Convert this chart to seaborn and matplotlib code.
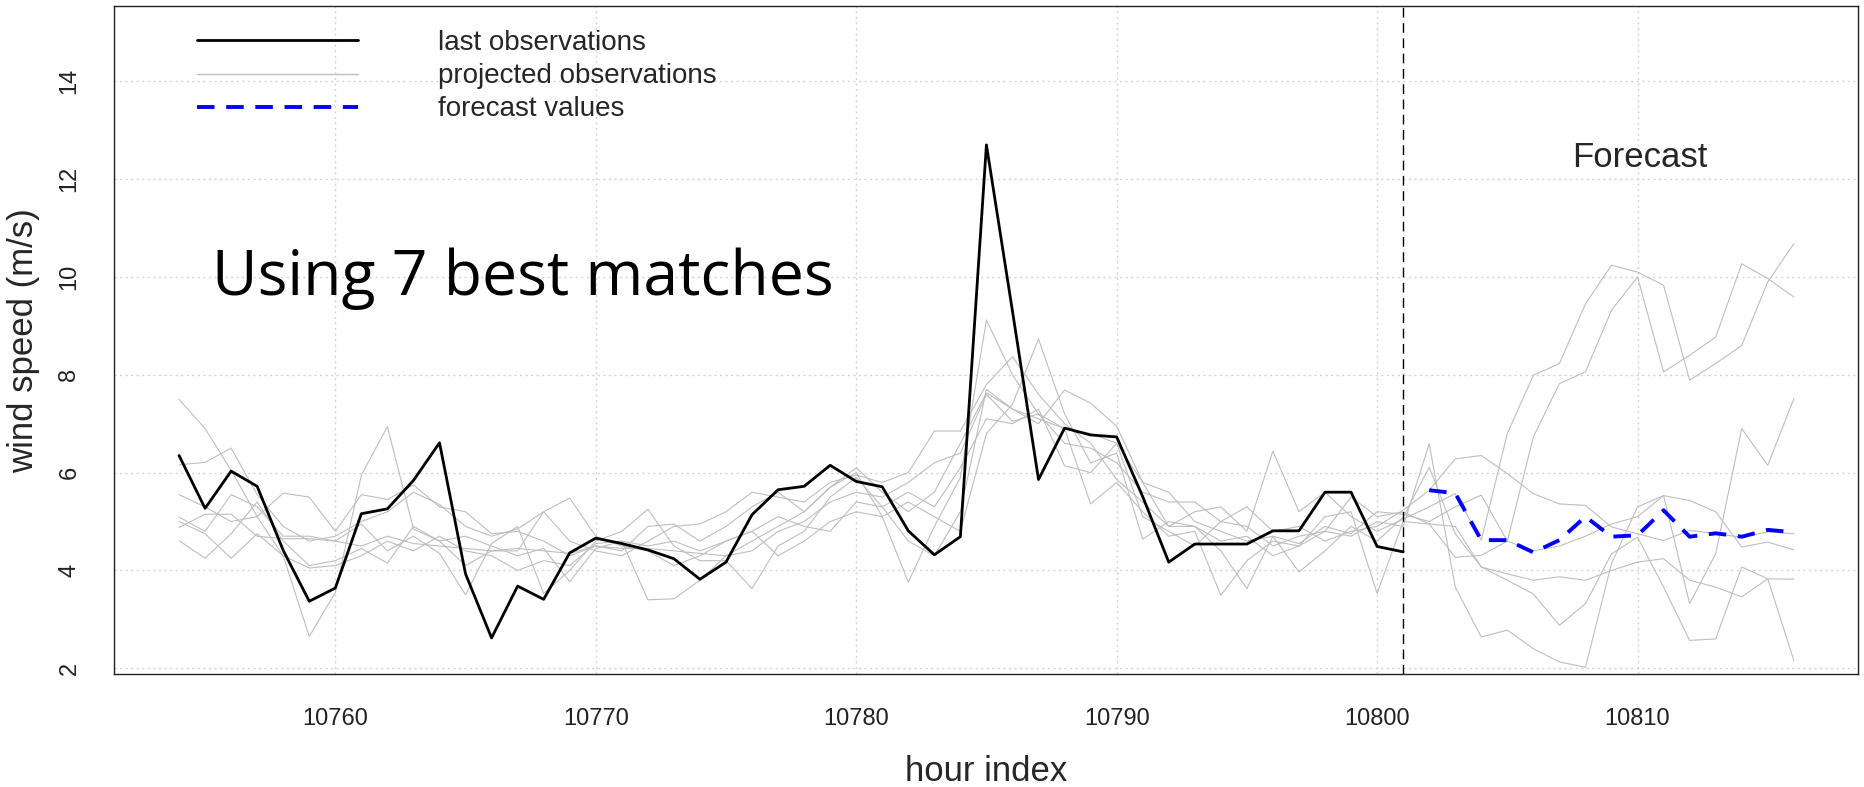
import pandas as pd
import seaborn as sns
import matplotlib.pyplot as plt
from matplotlib.lines import Line2D

# hour index ranges
hours_obs = list(range(10754, 10802))
hours_proj = list(range(10754, 10817))
hours_fc = list(range(10802, 10817))
forecast_start = 10801

# last observations (black)
last_obs = [6.35, 5.27, 6.03, 5.72, 4.41, 3.37, 3.64, 5.16, 5.26, 5.84,
            6.61, 3.93, 2.62, 3.68, 3.41, 4.36, 4.66, 4.55, 4.42, 4.24,
            3.82, 4.17, 5.14, 5.65, 5.72, 6.15, 5.82, 5.71, 4.81, 4.32,
            4.69, 12.70, 9.30, 5.86, 6.91, 6.77, 6.73, 5.51, 4.17, 4.54,
            4.54, 4.54, 4.81, 4.81, 5.60, 5.60, 4.49, 4.38]

# forecast values (blue dashed)
forecast = [5.64, 5.58, 4.62, 4.62, 4.37, 4.62, 5.10, 4.69, 4.72, 5.23,
            4.69, 4.76, 4.69, 4.83, 4.78]

# projected observations of the 7 best matches (grey)
proj_1 = [7.50, 6.90, 6.05, 5.10, 4.30, 2.65, 3.55, 5.95, 6.94, 4.85, 4.60, 4.70, 4.50, 4.30, 4.45, 3.77, 4.45, 4.60,
          3.40, 3.42, 3.80, 4.30, 4.60, 4.90, 5.20, 5.70, 6.00, 5.10, 3.76, 4.90, 5.90, 9.12, 8.00, 7.20, 6.90, 5.36,
          5.80, 5.20, 4.70, 4.80, 3.49, 4.20, 4.60, 4.50, 4.80, 4.70, 5.00,
          4.90, 6.59, 3.66, 2.64, 2.78, 2.40, 2.13, 2.02, 4.14, 5.30, 5.53, 3.32, 4.34, 6.90, 6.15, 7.51]
proj_2 = [6.16, 6.21, 6.50, 5.55, 4.90, 4.60, 4.70, 5.00, 5.20, 5.60, 5.35, 4.90, 4.70, 4.85, 5.20, 4.60, 4.40, 4.30,
          4.60, 4.90, 4.95, 5.20, 5.60, 5.50, 5.40, 5.80, 5.95, 5.80, 6.00, 6.85, 6.85, 7.80, 8.37, 7.60, 7.00, 6.60,
          5.86, 5.40, 4.90, 5.20, 5.30, 4.80, 6.44, 5.20, 5.60, 5.10, 4.80,
          5.05, 5.30, 5.57, 4.62, 6.80, 7.99, 8.23, 9.45, 10.24, 10.10, 9.83, 7.89, 8.23, 8.60, 9.90, 10.68]
proj_3 = [5.55, 5.30, 5.00, 5.10, 5.58, 5.50, 4.80, 5.55, 5.45, 5.75, 5.30, 5.20, 4.75, 4.80, 4.60, 4.30, 4.50, 4.40,
          4.90, 4.95, 4.60, 4.90, 5.30, 5.60, 5.20, 5.70, 6.10, 5.60, 5.20, 5.60, 6.60, 7.63, 7.30, 7.10, 6.90, 6.80,
          6.60, 5.80, 5.60, 5.00, 4.80, 4.60, 4.70, 4.55, 4.90, 4.75, 5.20,
          5.15, 5.00, 5.30, 5.54, 4.60, 6.73, 7.82, 8.06, 9.32, 10.00, 8.06, 8.40, 8.77, 10.27, 9.97, 9.59]
proj_4 = [5.09, 4.80, 5.55, 5.30, 4.70, 4.70, 4.60, 4.95, 4.40, 4.70, 4.35, 3.50, 4.55, 4.90, 3.53, 4.00, 4.60, 4.80,
          5.25, 4.50, 4.20, 4.20, 3.63, 4.50, 4.80, 5.50, 5.90, 5.30, 4.60, 4.30, 5.20, 7.70, 7.30, 7.00, 7.69, 7.42,
          6.95, 5.80, 4.90, 4.90, 4.40, 3.63, 4.70, 3.97, 4.40, 4.90, 4.60,
          5.09, 6.11, 4.75, 4.07, 3.80, 3.52, 2.88, 3.32, 4.34, 4.68, 3.66, 2.57, 2.60, 4.07, 3.83, 2.16]
proj_5 = [4.88, 5.15, 5.15, 4.70, 4.65, 4.65, 4.60, 4.50, 4.70, 4.55, 4.50, 4.45, 4.40, 4.45, 4.40, 4.35, 4.50, 4.45,
          4.45, 4.40, 4.35, 4.30, 4.40, 4.80, 5.00, 5.40, 5.60, 5.50, 5.80, 6.20, 6.40, 7.60, 7.05, 7.20, 6.60, 6.50,
          6.20, 5.60, 5.40, 5.40, 5.00, 5.30, 4.80, 4.90, 4.60, 4.80, 4.90,
          5.23, 5.64, 6.28, 6.35, 5.98, 5.57, 5.36, 5.33, 4.89, 4.75, 4.61, 4.82, 4.75, 4.68, 4.79, 4.75]
proj_6 = [4.61, 4.25, 4.75, 5.40, 4.60, 4.10, 4.20, 4.45, 4.15, 4.90, 4.60, 4.10, 4.40, 4.40, 5.20, 5.48, 4.70, 4.50,
          4.40, 4.10, 4.30, 4.60, 4.80, 4.30, 4.60, 5.00, 5.20, 5.10, 5.40, 5.10, 4.80, 6.80, 7.40, 8.73, 7.20, 6.20,
          6.40, 4.64, 5.00, 4.90, 4.60, 4.70, 4.30, 4.50, 5.10, 5.20, 3.53,
          5.00, 4.95, 4.90, 4.07, 3.93, 3.80, 3.87, 3.80, 4.00, 4.17, 4.24, 3.80, 3.66, 3.46, 3.83, 3.82]
proj_7 = [5.00, 4.75, 4.25, 4.75, 4.30, 4.05, 4.10, 4.30, 4.60, 4.40, 4.70, 4.40, 4.30, 4.00, 4.20, 4.10, 4.55, 4.60,
          4.50, 4.60, 4.40, 4.60, 4.80, 5.10, 4.90, 4.80, 5.40, 5.30, 5.60, 5.30, 6.10, 7.10, 7.00, 7.30, 6.14, 6.00,
          6.60, 5.10, 4.80, 4.50, 5.00, 4.90, 4.50, 4.70, 4.80, 5.50, 5.10,
          5.20, 4.95, 4.27, 4.31, 4.60, 4.40, 4.50, 4.70, 4.95, 5.10, 5.53, 5.43, 5.20, 4.48, 4.58, 4.42]

projections = [proj_1, proj_2, proj_3, proj_4, proj_5, proj_6, proj_7]
df_proj = pd.concat([pd.DataFrame({'hour': hours_proj, 'speed': p, 'match': i})
                     for i, p in enumerate(projections)], ignore_index=True)
df_obs = pd.DataFrame({'hour': hours_obs, 'speed': last_obs})
df_fc = pd.DataFrame({'hour': hours_fc, 'speed': forecast})

sns.set_style('white')
plt.rcParams['font.family'] = ['Liberation Sans', 'DejaVu Sans']

fig = plt.figure(figsize=(18.64, 7.87), dpi=100)
ax = fig.add_axes([0.0614, 0.1432, 0.9356, 0.8492])

grey = '#bebebe'
blue_dash = (0, (4.5, 3))
sns.lineplot(data=df_proj, x='hour', y='speed', units='match', estimator=None,
             color=grey, linewidth=0.8, ax=ax, legend=False)
sns.lineplot(data=df_obs, x='hour', y='speed', color='black', linewidth=2.0,
             ax=ax, legend=False)
sns.lineplot(data=df_fc, x='hour', y='speed', color='#0000ff', linewidth=2.8,
             linestyle=blue_dash, ax=ax, legend=False)
ax.axvline(forecast_start, color='black', linewidth=1.0, linestyle=(0, (7, 4)))

ax.set_xlim(10751.52, 10818.48)
ax.set_ylim(1.877, 15.54)
ax.set_xticks([10760, 10770, 10780, 10790, 10800, 10810])
ax.set_yticks([2, 4, 6, 8, 10, 12, 14])
ax.grid(True, color='#d3d3d3', linestyle=(0, (1.5, 2.5)), linewidth=1.0)

for s in ax.spines.values():
    s.set_color('#222222')
    s.set_linewidth(1.0)
ax.tick_params(axis='both', direction='out', length=10.5, width=1.0,
               color='#222222', labelsize=17, labelcolor='#222222')
ax.tick_params(axis='x', pad=13.5)
ax.tick_params(axis='y', pad=14, labelrotation=90)
for t in ax.get_yticklabels():
    t.set_va('center')

ax.set_xlabel('hour index', fontsize=25)
ax.set_ylabel('wind speed (m/s)', fontsize=25)
ax.xaxis.set_label_coords(0.5, -0.121)
ax.yaxis.set_label_coords(-0.0426, 0.5)

handles = [Line2D([], [], color='black', linewidth=2.0),
           Line2D([], [], color=grey, linewidth=1.0),
           Line2D([], [], color='#0000ff', linewidth=2.8, linestyle=blue_dash)]
ax.legend(handles, ['last observations', 'projected observations', 'forecast values'],
          loc='upper left', bbox_to_anchor=(0.0368, 0.991), frameon=False,
          fontsize=20, handlelength=5.8, handletextpad=2.9, labelspacing=0.26,
          borderaxespad=0.25)

ax.text(0.0559, 0.5676, 'Using 7 best matches', transform=ax.transAxes,
        fontsize=45, family=['Open Sans', 'DejaVu Sans'], fontweight='normal',
        color='black', va='baseline', ha='left')
ax.text(0.8744, 0.7597, 'Forecast', transform=ax.transAxes, fontsize=25,
        va='baseline', ha='center')

fig.savefig('out.png', dpi=100)
